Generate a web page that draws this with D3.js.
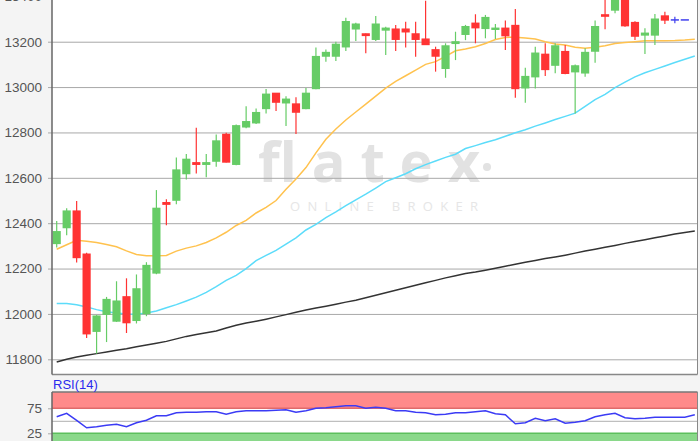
<!DOCTYPE html>
<html>
<head>
<meta charset="utf-8">
<script src="https://cdn.jsdelivr.net/npm/d3@7"></script>
<style>
    body { margin: 0; background: #f4f4f4; }
    svg { display: block; }
</style>
</head>
<body>
<svg id="canvas" width="700" height="441"></svg>
<script>
// daily candles, oldest first
var opens = [12311, 12381, 12453, 12263, 11924, 11999, 11969, 12075, 11972, 12002,
    12181, 12490, 12502, 12619, 12666, 12660, 12674, 12791, 12660, 12825,
    12843, 12906, 12972, 12931, 12925, 12906, 12994, 13137, 13137, 13178,
    13257, 13234, 13211, 13252, 13255, 13255, 13234, 13211, 13164, 13083,
    13193, 13233, 13281, 13259, 13255, 13259, 13271, 12997, 13046, 13144,
    13097, 13156, 13068, 13063, 13159, 13318, 13340, 13410, 13284, 13230,
    13230, 13313, 13296, 13296];
var highs = [12410, 12466, 12498, 12270, 11995, 12075, 12144, 12157, 12174, 12228,
    12546, 12505, 12690, 12705, 12821, 12705, 12791, 12799, 12835, 12916,
    12906, 12991, 12974, 12960, 12955, 12996, 13174, 13166, 13200, 13306,
    13284, 13236, 13313, 13266, 13274, 13288, 13288, 13380, 13178, 13193,
    13244, 13274, 13321, 13318, 13278, 13293, 13344, 13085, 13178, 13193,
    13193, 13185, 13100, 13171, 13293, 13400, 13420, 13430, 13290, 13259,
    13322, 13332, 13310, 13296];
var lows = [12293, 12347, 12227, 11894, 11825, 11876, 11965, 11916, 11958, 11990,
    12175, 12391, 12484, 12593, 12619, 12602, 12649, 12668, 12655, 12818,
    12837, 12884, 12894, 12828, 12793, 12902, 12990, 13112, 13115, 13159,
    13203, 13149, 13203, 13141, 13159, 13175, 13134, 13188, 13068, 13041,
    13119, 13207, 13193, 13215, 13212, 13163, 12953, 12931, 12994, 13049,
    13061, 13056, 12884, 13046, 13107, 13255, 13325, 13266, 13207, 13146,
    13185, 13278, 13281, 13296];
var closes = [12362, 12453, 12249, 11913, 11990, 12063, 12056, 11962, 12110, 12213,
    12465, 12484, 12634, 12681, 12660, 12666, 12762, 12670, 12829, 12847,
    12887, 12968, 12934, 12946, 12890, 12972, 13134, 13152, 13188, 13288,
    13277, 13228, 13277, 13259, 13211, 13244, 13211, 13188, 13137, 13181,
    13199, 13266, 13262, 13306, 13259, 13227, 12994, 13046, 13149, 13078,
    13181, 13061, 13093, 13152, 13266, 13313, 13395, 13271, 13225, 13237,
    13299, 13296, 13296, 13296];
// candles of the running session (drawn blue)
var liveCandles = [62, 63];

// moving averages, one value per slot (65 slots)
var ma20 = [12285, 12305, 12325, 12320, 12315, 12306, 12296, 12278, 12262, 12256,
    12256, 12258, 12277, 12290, 12300, 12315, 12335, 12360, 12390, 12412,
    12445, 12470, 12500, 12550, 12595, 12645, 12710, 12770, 12815, 12855,
    12890, 12925, 12960, 12995, 13025, 13050, 13075, 13100, 13112, 13135,
    13160, 13168, 13178, 13192, 13210, 13219, 13220, 13216, 13212, 13200,
    13190, 13185, 13176, 13171, 13176, 13182, 13192, 13196, 13200, 13204,
    13204, 13204, 13205, 13207, 13211];
var ma50 = [12046, 12046, 12040, 12031, 12019, 12010, 12004, 12000, 11999, 12004,
    12013, 12027, 12041, 12057, 12074, 12095, 12120, 12148, 12170, 12200,
    12235, 12258, 12280, 12308, 12335, 12370, 12395, 12425, 12450, 12477,
    12503, 12528, 12555, 12583, 12600, 12618, 12640, 12658, 12674, 12690,
    12704, 12729, 12742, 12756, 12768, 12783, 12799, 12812, 12828, 12842,
    12857, 12871, 12885, 12915, 12945, 12968, 12998, 13022, 13045, 13063,
    13078, 13093, 13108, 13123, 13137];
var ma200 = [11788, 11800, 11810, 11818, 11825, 11832, 11840, 11847, 11855, 11863,
    11871, 11879, 11890, 11901, 11909, 11917, 11925, 11938, 11950, 11960,
    11968, 11977, 11987, 11997, 12007, 12017, 12026, 12034, 12043, 12052,
    12060, 12071, 12082, 12093, 12104, 12115, 12126, 12137, 12148, 12159,
    12168, 12178, 12185, 12193, 12201, 12210, 12219, 12228, 12236, 12244,
    12251, 12259, 12268, 12277, 12285, 12294, 12302, 12311, 12319, 12327,
    12336, 12344, 12352, 12359, 12366];
var rsi = [58, 65, 51, 36, 38, 41, 43, 38, 46, 51,
    60, 60, 66, 67, 67, 68, 68, 63, 68, 70,
    70, 70, 71, 72, 67, 70, 75, 76, 78, 80,
    80, 75, 77, 75, 70, 70, 67, 66, 62, 63,
    66, 66, 68, 70, 64, 62, 44, 46, 55, 50,
    54, 45, 47, 50, 58, 62, 65, 56, 54, 55,
    57, 57, 57, 57, 62];

var priceTicks = [11800, 12000, 12200, 12400, 12600, 12800, 13000, 13200, 13400];
var rsiTicks = [25, 75];
var rsiGrid = [50];
var rsiLabel = 'RSI(14)';

var AXIS_X = 52, PLOT_RIGHT = 697.5, PLOT_TOP = -20, PLOT_BOTTOM = 374.5;
var RSI_TOP = 392, RSI_BOTTOM = 460;
var FONT = '"Liberation Sans", Arial, sans-serif';

var svg = d3.select('#canvas');

var x = d3.scaleLinear().domain([0, 64]).range([56.7, 694.8]);
var y = d3.scaleLinear().domain([11733, 13472]).range([PLOT_BOTTOM, PLOT_TOP]);
var yRsi = d3.scaleLinear().domain([25, 75]).range([433.3, 408.3]);
var bodyWidth = (x(1) - x(0)) * 0.82;

// panels
svg.append('rect')
    .attr('x', AXIS_X).attr('y', PLOT_TOP)
    .attr('width', PLOT_RIGHT - AXIS_X).attr('height', PLOT_BOTTOM - PLOT_TOP)
    .attr('fill', '#fff');
svg.append('rect')
    .attr('x', AXIS_X).attr('y', RSI_TOP)
    .attr('width', PLOT_RIGHT - AXIS_X).attr('height', RSI_BOTTOM - RSI_TOP)
    .attr('fill', '#fff');

// watermark
svg.append('text')
    .attr('x', 258).attr('y', 182)
    .attr('textLength', 222).attr('lengthAdjust', 'spacing')
    .attr('font-family', '"Open Sans", Lato, sans-serif')
    .attr('font-weight', 700)
    .attr('font-size', '56px')
    .attr('fill', '#e2e2e2')
    .text('flatex');
svg.append('circle')
    .attr('cx', 487).attr('cy', 167).attr('r', 4)
    .attr('fill', '#e2e2e2');
svg.append('text')
    .attr('x', 290).attr('y', 211)
    .attr('textLength', 188).attr('lengthAdjust', 'spacing')
    .attr('font-family', '"Open Sans", Lato, sans-serif')
    .attr('font-size', '13px')
    .attr('fill', '#e6e6e6')
    .text('ONLINE BROKER');

// price grid + labels
var grid = svg.append('g')
    .attr('transform', 'translate(' + AXIS_X + ',0)')
    .call(d3.axisLeft(y).tickValues(priceTicks).tickSize(-(PLOT_RIGHT - AXIS_X)).tickFormat(''));
grid.select('.domain').remove();
grid.selectAll('line').attr('stroke', '#a8a8a8');

var yAxis = svg.append('g')
    .attr('transform', 'translate(' + AXIS_X + ',0)')
    .call(d3.axisLeft(y).tickValues(priceTicks).tickSize(4).tickPadding(6).tickFormat(d3.format('d')));
yAxis.select('.domain').remove();
yAxis.selectAll('line').attr('stroke', '#a8a8a8');
yAxis.selectAll('text')
    .attr('font-family', FONT).attr('font-size', '13.5px').attr('fill', '#555');

// moving averages
function maLine(values, colour) {
    svg.append('path')
        .datum(values)
        .attr('fill', 'none')
        .attr('stroke', colour)
        .attr('stroke-width', 1.5)
        .attr('d', d3.line()
            .x(function(d, i) { return x(i); })
            .y(function(d) { return y(d); }));
}
maLine(ma200, '#333');
maLine(ma50, '#5cdcfa');
maLine(ma20, '#ffc24e');

// candles
function candleColour(i) {
    if (liveCandles.indexOf(i) >= 0) return '#4040ee';
    return closes[i] >= opens[i] ? '#66cc66' : '#ff3333';
}
var candles = svg.append('g').selectAll('g')
    .data(d3.range(opens.length))
    .enter().append('g');
candles.append('line')
    .attr('x1', function(i) { return x(i); })
    .attr('x2', function(i) { return x(i); })
    .attr('y1', function(i) { return y(highs[i]); })
    .attr('y2', function(i) { return y(lows[i]); })
    .attr('stroke', candleColour)
    .attr('stroke-width', 1.2);
candles.append('rect')
    .attr('x', function(i) { return x(i) - bodyWidth / 2; })
    .attr('y', function(i) { return Math.min(y(opens[i]), y(closes[i])) - 0.75; })
    .attr('width', bodyWidth)
    .attr('height', function(i) { return Math.abs(y(opens[i]) - y(closes[i])) + 1.5; })
    .attr('fill', candleColour);

// plot frame
svg.append('line')
    .attr('x1', AXIS_X).attr('x2', PLOT_RIGHT).attr('y1', PLOT_BOTTOM).attr('y2', PLOT_BOTTOM)
    .attr('stroke', '#888').attr('stroke-width', 1.5);
svg.append('line')
    .attr('x1', PLOT_RIGHT).attr('x2', PLOT_RIGHT).attr('y1', PLOT_TOP).attr('y2', PLOT_BOTTOM)
    .attr('stroke', '#888');
svg.append('line')
    .attr('x1', AXIS_X).attr('x2', AXIS_X).attr('y1', PLOT_TOP).attr('y2', PLOT_BOTTOM)
    .attr('stroke', '#666').attr('stroke-width', 1.5);

// RSI panel
svg.append('rect')
    .attr('x', AXIS_X).attr('y', RSI_TOP)
    .attr('width', PLOT_RIGHT - AXIS_X).attr('height', yRsi(75) - RSI_TOP)
    .attr('fill', '#ff8a8a');
svg.append('rect')
    .attr('x', AXIS_X).attr('y', yRsi(25))
    .attr('width', PLOT_RIGHT - AXIS_X).attr('height', RSI_BOTTOM - yRsi(25))
    .attr('fill', '#8ad88a');

var rsiGridG = svg.append('g')
    .attr('transform', 'translate(' + AXIS_X + ',0)')
    .call(d3.axisLeft(yRsi).tickValues(rsiGrid).tickSize(-(PLOT_RIGHT - AXIS_X)).tickFormat(''));
rsiGridG.select('.domain').remove();
rsiGridG.selectAll('line').attr('stroke', '#b0b0b0');

svg.append('line')
    .attr('x1', AXIS_X).attr('x2', PLOT_RIGHT).attr('y1', yRsi(75)).attr('y2', yRsi(75))
    .attr('stroke', '#e06a6a').attr('stroke-width', 1.5);
svg.append('line')
    .attr('x1', AXIS_X).attr('x2', PLOT_RIGHT).attr('y1', yRsi(25)).attr('y2', yRsi(25))
    .attr('stroke', '#5cbf5c').attr('stroke-width', 1.5);

svg.append('path')
    .datum(rsi)
    .attr('fill', 'none')
    .attr('stroke', '#3b3bf5')
    .attr('stroke-width', 1.5)
    .attr('d', d3.line()
        .x(function(d, i) { return x(i); })
        .y(function(d) { return yRsi(d); }));

var rsiAxis = svg.append('g')
    .attr('transform', 'translate(' + AXIS_X + ',0)')
    .call(d3.axisLeft(yRsi).tickValues(rsiTicks).tickSize(4).tickPadding(6));
rsiAxis.select('.domain').remove();
rsiAxis.selectAll('line').attr('stroke', '#a8a8a8');
rsiAxis.selectAll('text')
    .attr('font-family', FONT).attr('font-size', '13.5px').attr('fill', '#555');

svg.append('line')
    .attr('x1', AXIS_X).attr('x2', PLOT_RIGHT).attr('y1', RSI_TOP).attr('y2', RSI_TOP)
    .attr('stroke', '#777').attr('stroke-width', 1.5);
svg.append('line')
    .attr('x1', AXIS_X).attr('x2', AXIS_X).attr('y1', RSI_TOP).attr('y2', RSI_BOTTOM)
    .attr('stroke', '#666').attr('stroke-width', 1.5);
svg.append('line')
    .attr('x1', PLOT_RIGHT).attr('x2', PLOT_RIGHT).attr('y1', RSI_TOP).attr('y2', RSI_BOTTOM)
    .attr('stroke', '#888');

svg.append('text')
    .attr('x', AXIS_X + 1).attr('y', 389)
    .attr('font-family', FONT).attr('font-size', '13px')
    .attr('fill', '#2a2aee')
    .text(rsiLabel);
</script>
</body>
</html>
